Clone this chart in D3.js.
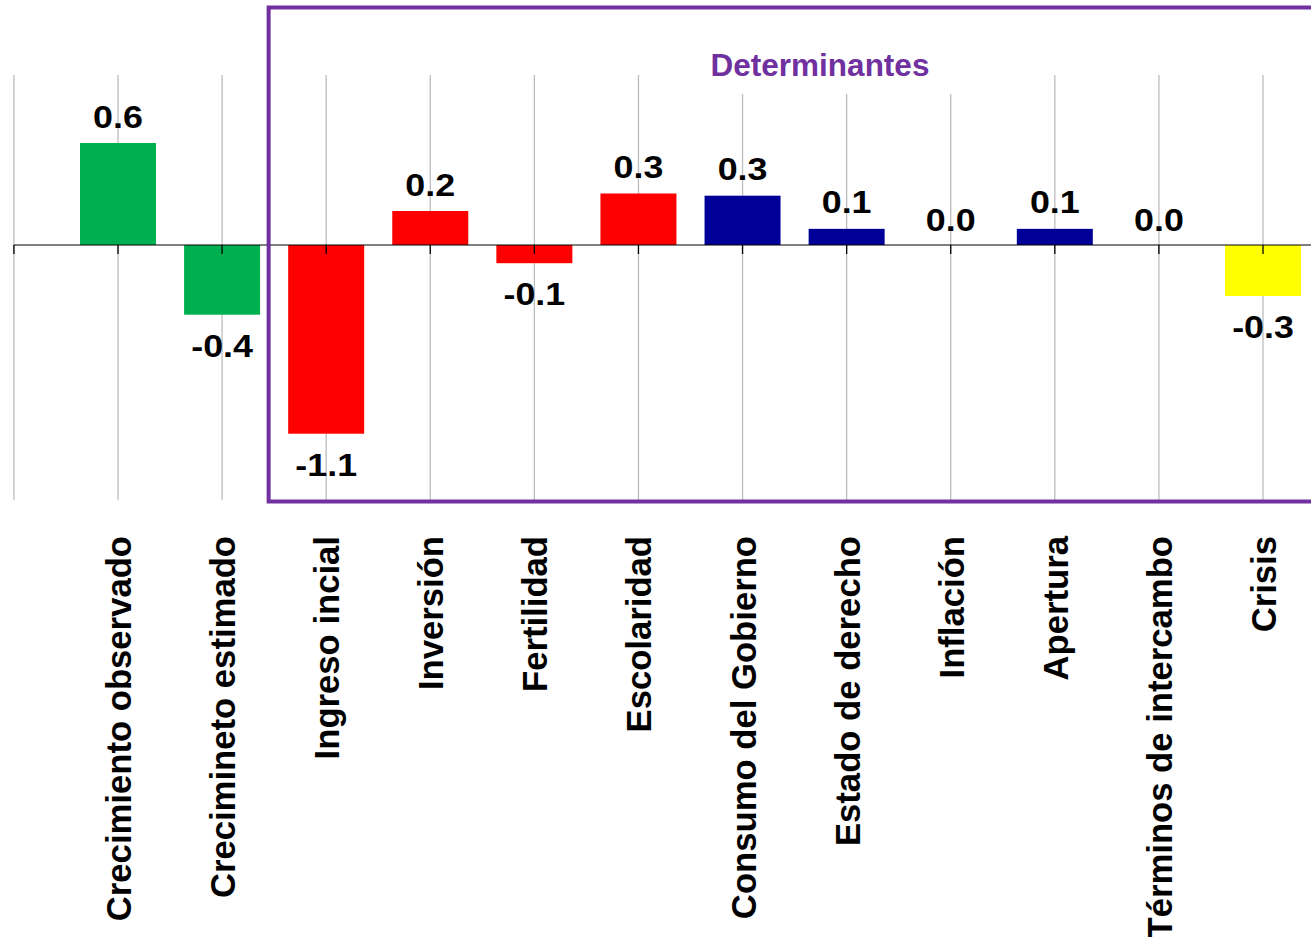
<!DOCTYPE html>
<html>
<head>
<meta charset="utf-8">
<script src="https://cdn.jsdelivr.net/npm/d3@7"></script>
<style>
  html, body { margin: 0; padding: 0; background: #ffffff; }
  svg { display: block; font-family: "Liberation Sans", Arial, sans-serif; }
</style>
</head>
<body>
<svg id="chart" width="1311" height="937"></svg>
<script>
const categories = [
  "Crecimiento observado", "Crecimineto estimado", "Ingreso incial", "Inversión",
  "Fertilidad", "Escolaridad", "Consumo del Gobierno", "Estado de derecho",
  "Inflación", "Apertura", "Términos de intercambo", "Crisis"
];
const values = [0.6, -0.41, -1.11, 0.2, -0.107, 0.303, 0.29, 0.095, 0.0, 0.095, 0.0, -0.30];
const valueLabels = ["0.6", "-0.4", "-1.1", "0.2", "-0.1", "0.3", "0.3", "0.1", "0.0", "0.1", "0.0", "-0.3"];
const groups = ["obs", "obs", "red", "red", "red", "red", "blue", "blue", "blue", "blue", "blue", "yellow"];
const groupColors = { obs: "#00B050", red: "#FF0000", blue: "#000099", yellow: "#FFFF00" };
const boxTitle = "Determinantes";
const yDomain = [-1.5, 1.0];

const svg = d3.select("#chart");

const x = d3.scalePoint().domain(categories).range([118, 1263]);
const step = x.step();
const y = d3.scaleLinear().domain(yDomain).range([500, 75]);
const y0 = y(0);
const barW = 76;

// gridlines (left edge + each category)
const gridXs = [x(categories[0]) - step].concat(categories.map(c => x(c)));
svg.append("g").selectAll("line").data(gridXs).join("line")
  .attr("x1", d => d).attr("x2", d => d)
  .attr("y1", y(yDomain[1])).attr("y2", y(yDomain[0]))
  .attr("stroke", "#bdbdbd").attr("stroke-width", 1.3);

// bars
svg.append("g").selectAll("rect").data(categories).join("rect")
  .attr("x", c => x(c) - barW / 2)
  .attr("width", barW)
  .attr("y", (c, i) => Math.min(y(values[i]), y0))
  .attr("height", (c, i) => Math.abs(y(values[i]) - y0))
  .attr("fill", (c, i) => groupColors[groups[i]]);

// zero axis
svg.append("line")
  .attr("x1", gridXs[0]).attr("x2", 1311)
  .attr("y1", y0).attr("y2", y0)
  .attr("stroke", "#000").attr("stroke-width", 1.2);
svg.append("g").selectAll("line").data(gridXs).join("line")
  .attr("x1", d => d).attr("x2", d => d)
  .attr("y1", y0).attr("y2", y0 + 9)
  .attr("stroke", "#000").attr("stroke-width", 1.3);

// Determinantes box
const boxLeft = x(categories[2]) - step / 2 - 5.5;
svg.append("path")
  .attr("d", `M1320,7.5 H${boxLeft} V501.5 H1320`)
  .attr("fill", "none").attr("stroke", "#7030A0").attr("stroke-width", 4);

svg.append("rect")
  .attr("x", 695).attr("y", 40).attr("width", 305).attr("height", 54)
  .attr("fill", "#ffffff");
svg.append("text")
  .attr("x", 820).attr("y", 76)
  .attr("text-anchor", "middle")
  .attr("font-size", 31.5).attr("font-weight", "bold")
  .attr("fill", "#7030A0")
  .text(boxTitle);

// value labels
svg.append("g").selectAll("text").data(categories).join("text")
  .attr("text-anchor", "middle")
  .attr("font-size", 32).attr("font-weight", "bold").attr("fill", "#000")
  .attr("transform", (c, i) => {
    const v = values[i];
    const yy = v < 0 ? y(v) + 42 : (v > 0 ? y(v) - 15.5 : y0 - 14);
    return `translate(${x(c)},${yy}) scale(1.12,1)`;
  })
  .text((c, i) => valueLabels[i]);

// category labels (rotated)
svg.append("g").selectAll("text").data(categories).join("text")
  .attr("text-anchor", "end")
  .attr("font-size", 36).attr("font-weight", "bold").attr("fill", "#000")
  .attr("dy", "0.36em")
  .attr("transform", c => `translate(${x(c)},536) rotate(-90) scale(0.963,1)`)
  .text(c => c);
</script>
</body>
</html>
